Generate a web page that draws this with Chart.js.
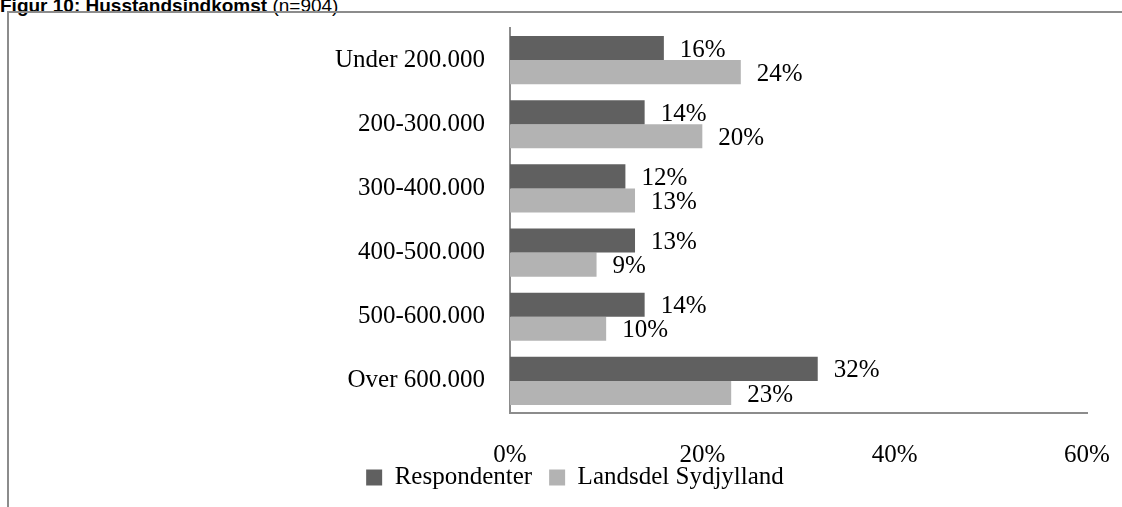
<!DOCTYPE html>
<html>
<head>
<meta charset="utf-8">
<script src="https://cdn.jsdelivr.net/npm/chart.js@4.4.1/dist/chart.umd.min.js"></script>
<style>
  body { margin: 0; background: #fff; }
  #wrap { position: relative; width: 1122px; height: 507px; overflow: hidden; }
  #title {
    position: absolute; left: 0; top: -5px;
    font-family: "Liberation Sans", Arial, sans-serif; font-size: 19px; color: #000;
    white-space: nowrap;
  }
  #title b { font-weight: bold; }
  #frame {
    position: absolute; left: 7px; top: 11px; width: 1130px; height: 510px;
    border-left: 2px solid #8c8c8c; border-top: 2px solid #8c8c8c;
  }
  canvas { position: absolute; left: 0; top: 0; }
</style>
</head>
<body>
<div id="wrap">
  <div id="title"><b>Figur 10: Husstandsindkomst</b> (n=904)</div>
  <div id="frame"></div>
  <canvas id="chartIndkomst" width="1122" height="507"></canvas>
</div>
<script>
// Data
const kategorier = ["Under 200.000", "200-300.000", "300-400.000", "400-500.000", "500-600.000", "Over 600.000"];
const respondenter = [16, 14, 12, 13, 14, 32];
const sydjylland = [24, 20, 13, 9, 10, 23];
const xTicks = [0, 20, 40, 60];

const serif = "'Liberation Serif', 'Times New Roman', serif";

// labels to the right of each bar
const barLabels = {
  id: "barLabels",
  afterDatasetsDraw(chart) {
    const ctx = chart.ctx;
    ctx.save();
    ctx.font = "25px " + serif;
    ctx.fillStyle = "#000";
    ctx.textAlign = "left";
    ctx.textBaseline = "middle";
    chart.data.datasets.forEach((ds, i) => {
      const meta = chart.getDatasetMeta(i);
      meta.data.forEach((bar, j) => {
        ctx.fillText(ds.data[j] + "%", bar.x + 16, bar.y + 2);
      });
    });
    ctx.restore();
  },
};

new Chart(document.getElementById("chartIndkomst").getContext("2d"), {
  type: "bar",
  data: {
    labels: kategorier,
    datasets: [
      {
        label: "Respondenter",
        data: respondenter,
        backgroundColor: "#606060",
      },
      {
        label: "Landsdel Sydjylland",
        data: sydjylland,
        backgroundColor: "#b3b3b3",
      },
    ],
  },
  options: {
    indexAxis: "y",
    responsive: false,
    animation: false,
    layout: { padding: { top: 28, right: 35, left: 63, bottom: 7 } },
    datasets: {
      bar: { categoryPercentage: 0.75, barPercentage: 1 },
    },
    plugins: {
      tooltip: { enabled: false },
      legend: {
        position: "bottom",
        labels: {
          boxWidth: 16,
          boxHeight: 16,
          padding: 17,
          color: "#000",
          font: { family: serif, size: 25 },
        },
      },
    },
    scales: {
      x: {
        min: 0,
        max: 60,
        afterBuildTicks: (scale) => {
          scale.ticks = xTicks.map((v) => ({ value: v }));
        },
        afterFit: (scale) => {
          scale.height = 35;
          scale.paddingLeft = 0;
          scale.paddingRight = 0;
        },
        grid: { display: false, drawTicks: false },
        border: { display: true, color: "#8c8c8c", width: 2 },
        ticks: {
          mirror: true,
          padding: -57,
          color: "#000",
          font: { family: serif, size: 25 },
          callback: (v) => v + "%",
        },
      },
      y: {
        afterFit: (scale) => {
          scale.width = 447;
          scale.paddingTop = 0;
          scale.paddingBottom = 0;
        },
        grid: { display: false, drawTicks: false },
        border: { display: true, color: "#8c8c8c", width: 2 },
        ticks: {
          padding: 25,
          color: "#000",
          font: { family: serif, size: 25 },
        },
      },
    },
  },
  plugins: [barLabels],
});
</script>
</body>
</html>
